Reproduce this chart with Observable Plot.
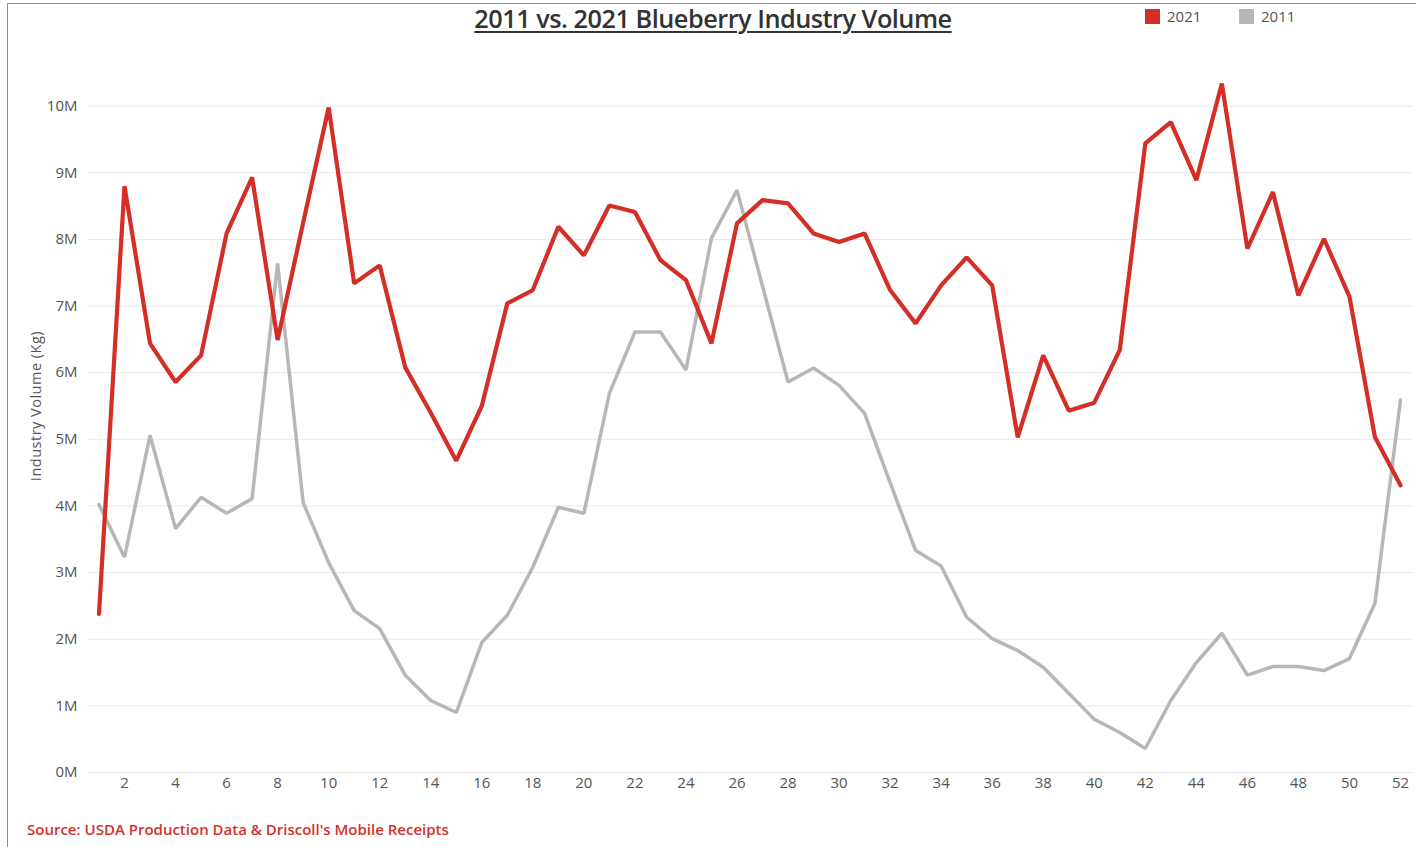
<!DOCTYPE html>
<html>
<head>
<meta charset="utf-8">
<script src="https://cdn.jsdelivr.net/npm/d3@7"></script>
<script src="https://cdn.jsdelivr.net/npm/@observablehq/plot@0.6"></script>
<style>
  html, body { margin: 0; padding: 0; background: #fff; }
  #wrap { position: relative; width: 1416px; height: 847px; overflow: hidden; font-family: "Open Sans", Lato, sans-serif; }
  #frame { position: absolute; left: 7px; top: 3px; right: -2px; bottom: -2px; border-left: 1.5px solid #8c8c8c; border-top: 1.5px solid #8c8c8c; }
  #chart { position: absolute; left: 0; top: 0; }
  #chart [aria-label="y-axis label"] text { font-size: 14.5px; letter-spacing: 0.5px; }
  #title { position: absolute; left: 5px; width: 1416px; top: 1px; text-align: center; font-size: 25.3px; color: #333; text-decoration: underline; text-underline-offset: 3px; text-decoration-thickness: 1.5px; font-weight: 600; letter-spacing: -0.5px; }
  .leg { position: absolute; top: 6px; font-size: 15px; color: #555; display: flex; align-items: center; }
  .sw { display: inline-block; width: 15px; height: 15px; margin-right: 7px; }
  #source { position: absolute; left: 27px; top: 819px; font-size: 15px; color: #d2322c; font-weight: 600; letter-spacing: 0; }
</style>
</head>
<body>
<div id="wrap">
  <div id="frame"></div>
  <div id="chart"></div>
  <div id="title"></div>
  <div id="legend"></div>
  <div id="source"></div>
</div>
<script>
// ---- data ----
const titleText = "2011 vs. 2021 Blueberry Industry Volume";
const sourceText = "Source: USDA Production Data & Driscoll's Mobile Receipts";
const yLabel = "Industry Volume (Kg)";
const seriesNames = ["2021", "2011"];
const seriesColors = ["#d42f27", "#bab6b4"];
const weeks = [1,2,3,4,5,6,7,8,9,10,11,12,13,14,15,16,17,18,19,20,21,22,23,24,25,26,27,28,29,30,31,32,33,34,35,36,37,38,39,40,41,42,43,44,45,46,47,48,49,50,51,52];
const xTicks = [2,4,6,8,10,12,14,16,18,20,22,24,26,28,30,32,34,36,38,40,42,44,46,48,50,52];
const yTicks = [0,1,2,3,4,5,6,7,8,9,10];
// values in millions of kg
const vol2021 = [2.38,8.8,6.44,5.86,6.26,8.09,8.93,6.49,8.25,9.98,7.34,7.61,6.08,5.4,4.68,5.5,7.04,7.24,8.19,7.76,8.51,8.41,7.69,7.39,6.44,8.24,8.59,8.54,8.09,7.96,8.09,7.24,6.74,7.31,7.73,7.31,5.03,6.26,5.43,5.55,6.34,9.44,9.76,8.89,10.34,7.86,8.71,7.16,8.01,7.14,5.03,4.31];
const vol2011 = [4.02,3.23,5.06,3.66,4.13,3.89,4.11,7.64,4.05,3.15,2.43,2.16,1.46,1.08,0.9,1.95,2.36,3.08,3.98,3.89,5.69,6.61,6.61,6.04,8.02,8.74,7.3,5.86,6.07,5.81,5.39,4.35,3.33,3.1,2.33,2.01,1.83,1.58,1.19,0.8,0.6,0.36,1.08,1.65,2.09,1.46,1.59,1.59,1.53,1.71,2.54,5.59];

const rows2021 = weeks.map((w, i) => ({week: w, value: vol2021[i]}));
const rows2011 = weeks.map((w, i) => ({week: w, value: vol2011[i]}));

const chart = Plot.plot({
  width: 1416,
  height: 847,
  marginLeft: 87,
  marginRight: 4,
  marginTop: 39,
  marginBottom: 75,
  style: {fontFamily: "'Open Sans', Lato, sans-serif", background: "transparent"},
  x: {domain: [0.55, 52.47]},
  y: {domain: [0, 11]},
  marks: [
    Plot.gridY(yTicks, {stroke: "#e9e9e9", strokeOpacity: 1, strokeWidth: 1}),
    Plot.axisY(yTicks, {
      tickSize: 0, tickPadding: 10, fontSize: 15, color: "#555",
      tickFormat: d => d + "M",
      label: yLabel, labelAnchor: "center", labelOffset: 57, labelArrow: "none"
    }),
    Plot.axisX(xTicks, {tickSize: 0, tickPadding: 5, fontSize: 15, color: "#555", label: null}),
    Plot.line(rows2011, {x: "week", y: "value", stroke: seriesColors[1], strokeWidth: 3.5, strokeLinejoin: "miter"}),
    Plot.line(rows2021, {x: "week", y: "value", stroke: seriesColors[0], strokeWidth: 4.2, strokeLinejoin: "miter"})
  ]
});
document.getElementById("chart").appendChild(chart);
document.getElementById("title").textContent = titleText;
document.getElementById("source").textContent = sourceText;

const legend = document.getElementById("legend");
const legX = [1145, 1239];
seriesNames.forEach((name, i) => {
  const d = document.createElement("div");
  d.className = "leg";
  d.style.left = legX[i] + "px";
  const s = document.createElement("span");
  s.className = "sw";
  s.style.background = seriesColors[i];
  d.appendChild(s);
  d.appendChild(document.createTextNode(name));
  legend.appendChild(d);
});
</script>
</body>
</html>
